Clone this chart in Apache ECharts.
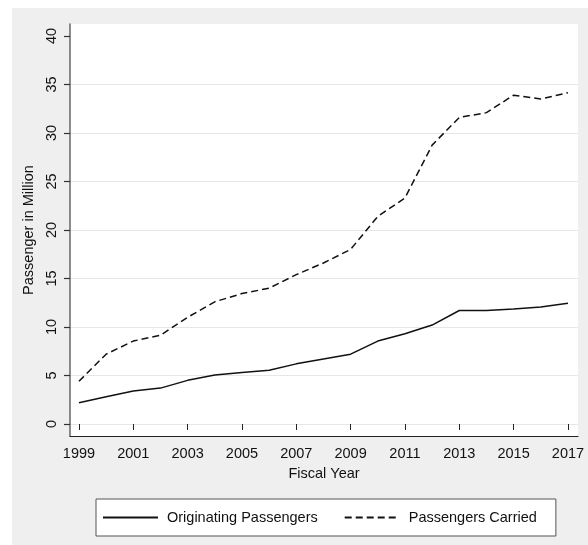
<!DOCTYPE html>
<html>
<head>
<meta charset="utf-8">
<script src="https://cdn.jsdelivr.net/npm/echarts@6/dist/echarts.min.js"></script>
<style>
html,body{margin:0;padding:0;background:#ffffff;}
#chart{position:absolute;left:12px;top:8px;width:576px;height:537px;}
</style>
</head>
<body>
<div id="chart"></div>
<script>
const years = [1999,2000,2001,2002,2003,2004,2005,2006,2007,2008,2009,2010,2011,2012,2013,2014,2015,2016,2017];
const originating = [2.2,2.8,3.4,3.7,4.5,5.05,5.3,5.55,6.2,6.7,7.2,8.55,9.3,10.2,11.7,11.7,11.85,12.05,12.45];
const carried = [4.4,7.2,8.55,9.15,11.0,12.6,13.45,14.0,15.4,16.6,18.0,21.4,23.3,28.75,31.6,32.1,33.9,33.5,34.15];
const xTickLabels = [1999,2001,2003,2005,2007,2009,2011,2013,2015,2017];
const seriesNames = ['Originating Passengers','Passengers Carried'];

const FONT = '"Liberation Sans", Arial, sans-serif';
const txt = {fontFamily: FONT, fontSize: 14.5, color: '#111'};

const chart = echarts.init(document.getElementById('chart'), null, {renderer: 'canvas'});
const option = {
  backgroundColor: '#efefef',
  animation: false,
  textStyle: {fontFamily: FONT},
  grid: [
    {left: 58, right: 10, top: 16, bottom: 109, show: true, backgroundColor: '#ffffff', borderWidth: 0, containLabel: false},
    {left: 58, right: 10, top: 28, bottom: 121, show: false, containLabel: false}
  ],
  xAxis: [
    {gridIndex: 0, type: 'value', min: 0, max: 1, axisLine: {show: true, lineStyle: {color: '#222', width: 1.2}}, axisTick: {show: false}, axisLabel: {show: false}, splitLine: {show: false}},
    {gridIndex: 1, type: 'value', min: 1998.67, max: 2017.37, offset: 12,
     axisLine: {show: false},
     axisTick: {show: true, customValues: xTickLabels, length: 6, lineStyle: {color: '#222', width: 1}},
     axisLabel: {show: true, customValues: xTickLabels, margin: 10, ...txt, formatter: v => String(v)},
     splitLine: {show: false},
     name: 'Fiscal Year', nameLocation: 'middle', nameGap: 30, nameTextStyle: {...txt}}
  ],
  yAxis: [
    {gridIndex: 0, type: 'value', min: 0, max: 1, axisLine: {show: true, lineStyle: {color: '#666', width: 1.5}}, axisTick: {show: false}, axisLabel: {show: false}, splitLine: {show: false}},
    {gridIndex: 1, type: 'value', min: 0, max: 40, interval: 5,
     axisLine: {show: false},
     axisTick: {show: true, length: 6, lineStyle: {color: '#333', width: 1.2}},
     axisLabel: {show: true, rotate: 90, margin: 11, ...txt},
     splitLine: {show: true, showMaxLine: false, lineStyle: {color: '#e6e6e6', width: 1.2}},
     name: 'Passenger in Million', nameLocation: 'middle', nameGap: 33, nameTextStyle: {...txt}}
  ],
  legend: {
    left: 84, top: 491,
    backgroundColor: '#ffffff', borderColor: '#555', borderWidth: 1, borderRadius: 0,
    padding: [11, 19, 11, 6],
    itemWidth: 55, itemHeight: 14, itemGap: 26,
    itemStyle: {opacity: 0},
    textStyle: {...txt, padding: [0, 0, 0, 4]},
    data: seriesNames
  },
  series: [
    {name: seriesNames[0], type: 'line', xAxisIndex: 1, yAxisIndex: 1, symbol: 'none',
     data: years.map((y, i) => [y, originating[i]]),
     lineStyle: {color: '#111', width: 1.5, type: 'solid'}, itemStyle: {color: '#111'}},
    {name: seriesNames[1], type: 'line', xAxisIndex: 1, yAxisIndex: 1, symbol: 'none',
     data: years.map((y, i) => [y, carried[i]]),
     lineStyle: {color: '#111', width: 1.5, type: [7, 4]}, itemStyle: {color: '#111'}}
  ]
};
chart.setOption(option);
</script>
</body>
</html>
